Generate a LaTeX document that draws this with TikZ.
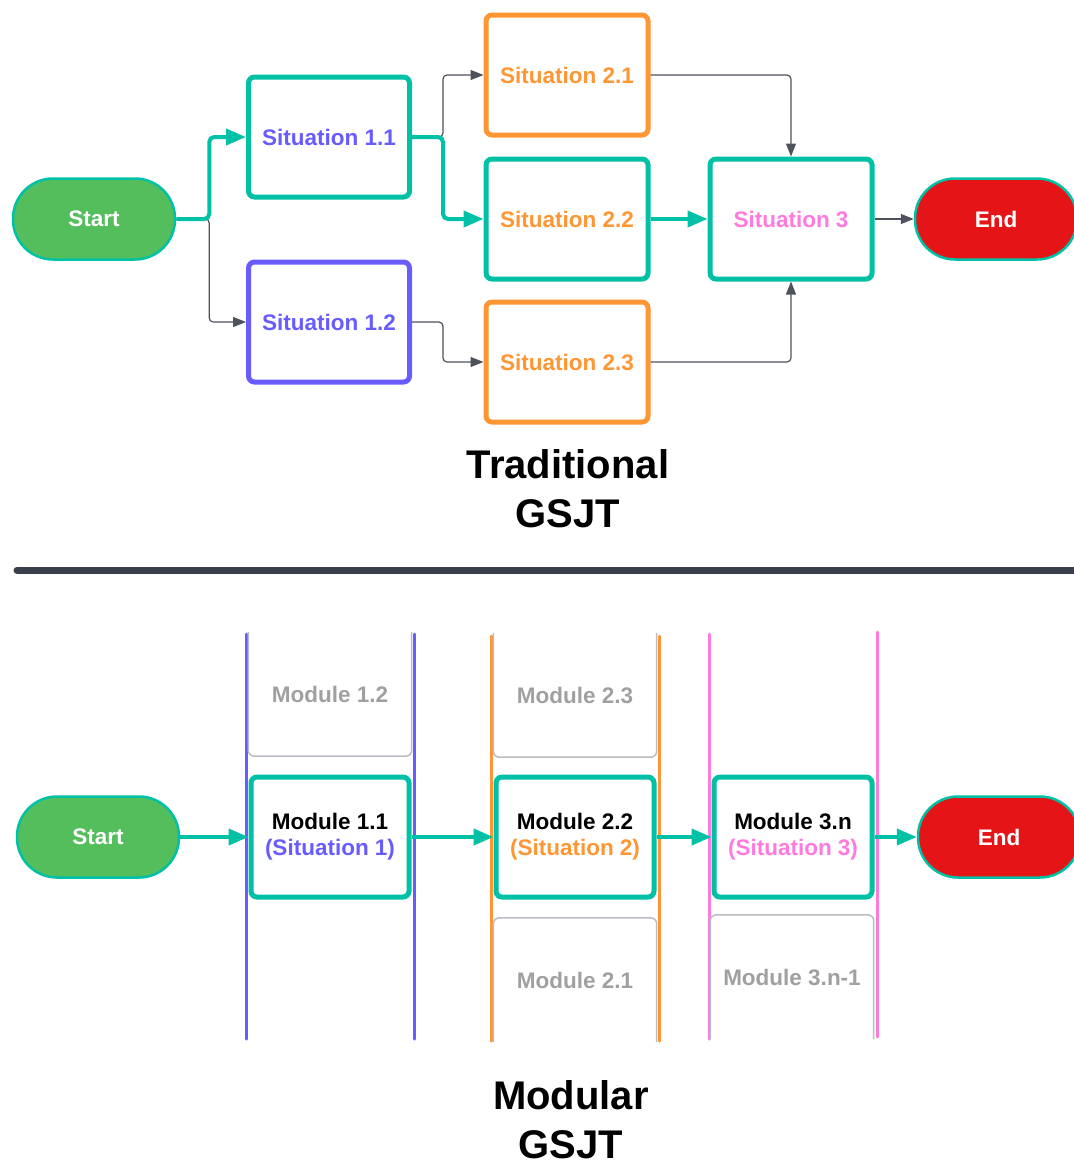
\documentclass[tikz,border=0pt]{standalone}
\usepackage{fontspec}
\setmainfont{Liberation Sans}
\usetikzlibrary{arrows.meta,calc}
\definecolor{tealc}{RGB}{0,192,165}
\definecolor{greenc}{RGB}{84,190,92}
\definecolor{redc}{RGB}{229,20,22}
\definecolor{purplec}{RGB}{104,92,255}
\definecolor{orangec}{RGB}{255,150,52}
\definecolor{pinkc}{RGB}{255,122,222}
\definecolor{darkc}{RGB}{58,63,74}
\definecolor{ghostc}{RGB}{160,160,160}
\definecolor{ghostline}{RGB}{185,189,195}
\tikzset{
  txt/.style={font=\fontsize{22.5}{26}\selectfont\bfseries},
  sitbox/.style={draw, line width=5pt, rounded corners=6pt, minimum width=161pt, minimum height=120pt, fill=white, txt, inner sep=0pt},
  pill/.style={draw=tealc, line width=2.5pt, rounded corners=40pt, minimum width=162pt, minimum height=81pt, txt, text=white, inner sep=0pt},
  modbox/.style={draw=tealc, line width=5pt, rounded corners=6pt, minimum width=158pt, minimum height=120pt, fill=white, txt, align=center, inner sep=0pt},
  ghostbox/.style={minimum width=163pt, minimum height=124pt, txt, text=ghostc, inner sep=0pt},
  ghostedge/.style={draw=ghostline, line width=1.5pt, rounded corners=6pt},
  thinarrow/.style={draw=darkc!90, line width=1.2pt, rounded corners=4pt, -{Triangle[length=13pt,width=10pt]}},
  tealarrow/.style={draw=tealc, line width=4pt, rounded corners=5pt, -{Triangle[length=20pt,width=16pt]}},
  lane/.style={line width=3pt, line cap=round},
  title/.style={font=\fontsize{40}{49}\selectfont\bfseries, align=center, inner sep=0pt}
}
\begin{document}
\begin{tikzpicture}[x=1pt,y=-1pt]
\useasboundingbox (0,0) rectangle (1074,1163);
% ---------- Traditional ----------
\node[pill, fill=greenc] (start) at (94,219) {Start};
\node[pill, fill=redc] (end) at (996,219) {End};
\node[sitbox, draw=tealc, text=purplec] (s11) at (329,137) {Situation 1.1};
\node[sitbox, draw=purplec, text=purplec] (s12) at (329,322) {Situation 1.2};
\node[sitbox, draw=orangec, text=orangec, minimum width=162pt] (s21) at (567,75) {Situation 2.1};
\node[sitbox, draw=tealc, text=orangec, minimum width=162pt] (s22) at (567,219) {Situation 2.2};
\node[sitbox, draw=orangec, text=orangec, minimum width=162pt] (s23) at (567,362) {Situation 2.3};
\node[sitbox, draw=tealc, text=pinkc, minimum width=162pt] (s3) at (791,219) {Situation 3};

\draw[thinarrow] (start.east) -- ++(33,0) |- (s12.west);
\draw[thinarrow] (s11.east) -- ++(31,0) |- (s21.west);
\draw[thinarrow] (s12.east) -- ++(31,0) |- (s23.west);
\draw[thinarrow] (s21.east) -| (s3.north);
\draw[thinarrow] (s23.east) -| (s3.south);
\draw[thinarrow] (s3.east) -- (end.west);
\draw[tealarrow] (start.east) -- ++(33,0) |- (s11.west);
\draw[tealarrow] (s11.east) -- ++(31,0) |- (s22.west);
\draw[tealarrow] (s22.east) -- (s3.west);

\node[title] (t1) at (568,489) {Traditional\\GSJT};

% separator
\draw[darkc, line width=7pt, line cap=round] (17,570) -- (1090,570);

% ---------- Modular ----------
% lanes
\draw[lane, purplec] (246,634) -- (246,1039);
\draw[lane, purplec] (414,634) -- (414,1039);
\draw[lane, orangec] (491,636) -- (491,1041);
\draw[lane, orangec] (659,636) -- (659,1041);
\draw[lane, pinkc] (709,634) -- (709,1039);
\draw[lane, pinkc] (877,632) -- (877,1037);

% ghost modules
\node[ghostbox] (m12) at (330,694) {Module 1.2};
\draw[ghostedge] (m12.north west) -- (m12.south west) -- (m12.south east) -- (m12.north east);
\node[ghostbox] (m23) at (575,695) {Module 2.3};
\draw[ghostedge] (m23.north west) -- (m23.south west) -- (m23.south east) -- (m23.north east);
\node[ghostbox] (m21) at (575,980) {Module 2.1};
\draw[ghostedge] (m21.south west) -- (m21.north west) -- (m21.north east) -- (m21.south east);
\node[ghostbox] (m3n1) at (792,977) {Module 3.n-1};
\draw[ghostedge] (m3n1.south west) -- (m3n1.north west) -- (m3n1.north east) -- (m3n1.south east);

% active modules
\node[modbox] (m11) at (330,837) {Module 1.1\\\textcolor{purplec}{(Situation 1)}};
\node[modbox] (m22) at (575,837) {Module 2.2\\\textcolor{orangec}{(Situation 2)}};
\node[modbox] (m3n) at (793,837) {Module 3.n\\\textcolor{pinkc}{(Situation 3)}};

\node[pill, fill=greenc] (start2) at (98,837) {Start};
\node[pill, fill=redc] (end2) at (999,837) {End};

\draw[tealarrow] (start2.east) -- (m11.west);
\draw[tealarrow] (m11.east) -- (m22.west);
\draw[tealarrow] (m22.east) -- (m3n.west);
\draw[tealarrow] (m3n.east) -- (end2.west);

\node[title] (t2) at (571,1120) {Modular\\GSJT};
\end{tikzpicture}
\end{document}
